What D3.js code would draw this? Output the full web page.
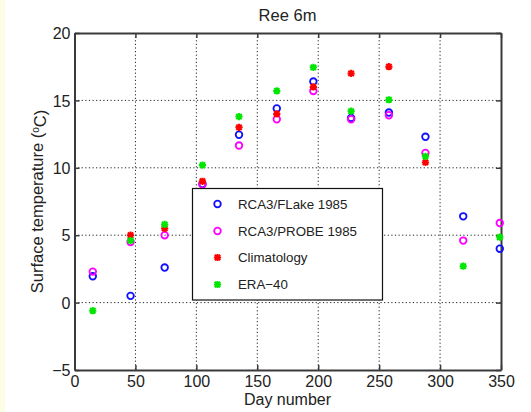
<!DOCTYPE html>
<html>
<head>
<meta charset="utf-8">
<script src="https://cdn.jsdelivr.net/npm/d3@7"></script>
<style>
  html, body { margin: 0; padding: 0; background: #fff; }
  svg { display: block; font-family: "Liberation Sans", Arial, sans-serif; }
</style>
</head>
<body>
<svg id="chart" width="531" height="412"></svg>
<script>
// Mid-month day numbers
const days = [15, 46, 74, 105, 135, 166, 196, 227, 258, 288, 319, 349];
// Surface temperature (°C) per source
const flake1985 = [1.95, 0.5, 2.6, 8.8, 12.45, 14.4, 16.4, 13.7, 14.1, 12.3, 6.4, 4.0];
const probe1985 = [2.3, 4.5, 5.0, 8.75, 11.65, 13.6, 15.7, 13.6, 13.9, 11.1, 4.6, 5.9];
const climatology = [null, 5.0, 5.5, 9.0, 13.0, 14.0, 16.0, 17.0, 17.5, 10.4, null, null];
const era40 = [-0.6, 4.6, 5.8, 10.2, 13.8, 15.7, 17.45, 14.2, 15.05, 10.85, 2.7, 4.85];

const xTicks = [0, 50, 100, 150, 200, 250, 300, 350];
const yTicks = [-5, 0, 5, 10, 15, 20];

const seriesNames = ["RCA3/FLake 1985", "RCA3/PROBE 1985", "Climatology", "ERA\u221240"];

const svg = d3.select("#chart");
const plotL = 74.5, plotR = 501, plotT = 33, plotB = 370;

const x = d3.scaleLinear().domain([0, 350]).range([plotL, plotR]);
const y = d3.scaleLinear().domain([-5, 20]).range([plotB, plotT]);

// thin pale strip at the left edge of the figure
svg.append("rect").attr("x", 0).attr("y", 0).attr("width", 5).attr("height", 412).attr("fill", "#fdfde6");

// dotted grid
const grid = svg.append("g").attr("stroke", "#222").attr("stroke-width", 1).attr("stroke-dasharray", "1.2,2.4");
grid.selectAll(".gx").data(xTicks.slice(1, -1)).join("line")
  .attr("x1", d => x(d)).attr("x2", d => x(d)).attr("y1", plotT).attr("y2", plotB);
grid.selectAll(".gy").data(yTicks.slice(1, -1)).join("line")
  .attr("y1", d => y(d)).attr("y2", d => y(d)).attr("x1", plotL).attr("x2", plotR);

// axes with inward ticks
const fmt = d => d < 0 ? "\u2212" + Math.abs(d) : String(d);
const axB = svg.append("g").attr("transform", `translate(0,${plotB})`)
  .call(d3.axisBottom(x).tickValues(xTicks).tickFormat(fmt).tickSizeInner(-5).tickSizeOuter(0).tickPadding(6));
const axL = svg.append("g").attr("transform", `translate(${plotL},0)`)
  .call(d3.axisLeft(y).tickValues(yTicks).tickFormat(fmt).tickSizeInner(-5).tickSizeOuter(0).tickPadding(4));
const axT = svg.append("g").attr("transform", `translate(0,${plotT})`)
  .call(d3.axisTop(x).tickValues(xTicks).tickFormat("").tickSizeInner(-5).tickSizeOuter(0));
const axR = svg.append("g").attr("transform", `translate(${plotR},0)`)
  .call(d3.axisRight(y).tickValues(yTicks).tickFormat("").tickSizeInner(-5).tickSizeOuter(0));

[axB, axL, axT, axR].forEach(g => {
  g.select(".domain").attr("stroke", "#3a3a3a").attr("stroke-width", 2);
  g.selectAll(".tick line").attr("stroke", "#3a3a3a").attr("stroke-width", 1.5);
  g.selectAll(".tick text").attr("fill", "#222").style("font-size", "16px").style("font-family", "'Liberation Sans', Arial, sans-serif");
});
axB.selectAll(".tick text").attr("dy", "0.71em");
axL.selectAll(".tick text").attr("dy", "0.35em");

// markers
function circleMark(g, cx, cy, color, r = 3.3) {
  g.append("circle").attr("cx", cx).attr("cy", cy).attr("r", r)
    .attr("fill", "none").attr("stroke", color).attr("stroke-width", 1.8);
}
function starMark(g, cx, cy, color, s = 3.6) {
  const p = d3.path();
  p.moveTo(cx - s, cy); p.lineTo(cx + s, cy);
  p.moveTo(cx, cy - s); p.lineTo(cx, cy + s);
  const d = s * 0.75;
  p.moveTo(cx - d, cy - d); p.lineTo(cx + d, cy + d);
  p.moveTo(cx - d, cy + d); p.lineTo(cx + d, cy - d);
  g.append("path").attr("d", p.toString()).attr("stroke", color).attr("stroke-width", 2).attr("fill", "none");
}

const series = [
  { vals: flake1985, color: "#1010ff", mark: circleMark },
  { vals: probe1985, color: "#ff00ff", mark: circleMark },
  { vals: climatology, color: "#ff0000", mark: starMark },
  { vals: era40, color: "#00e600", mark: starMark }
];

const marks = svg.append("g");
series.forEach(s => {
  days.forEach((d, i) => {
    const v = s.vals[i];
    if (v === null) return;
    s.mark(marks, x(d), y(v), s.color);
  });
});

// legend
const lg = svg.append("g");
lg.append("rect").attr("x", 192.5).attr("y", 188.5).attr("width", 190).attr("height", 111.5)
  .attr("fill", "#fff").attr("stroke", "#111").attr("stroke-width", 1.2);
const legendY = [204, 231, 257.5, 284.5];
series.forEach((s, i) => {
  s.mark(lg, 217.5, legendY[i], s.color);
  lg.append("text").attr("x", 238).attr("y", legendY[i]).attr("dy", "0.35em")
    .style("font-size", "13.3px").attr("fill", "#222").text(seriesNames[i]);
});

// title and axis labels
svg.append("text").attr("x", 287.5).attr("y", 20.5).attr("text-anchor", "middle")
  .style("font-size", "16.5px").attr("fill", "#222").text("Ree 6m");
svg.append("text").attr("x", 287.5).attr("y", 405).attr("text-anchor", "middle")
  .style("font-size", "16px").attr("fill", "#222").text("Day number");
const yl = svg.append("text").attr("transform", "translate(43,201.5) rotate(-90)")
  .attr("text-anchor", "middle").style("font-size", "16.5px").attr("fill", "#222");
yl.append("tspan").text("Surface temperature (");
yl.append("tspan").attr("dy", "-0.45em").style("font-size", "10px").text("o");
yl.append("tspan").attr("dy", "0.45em").text("C)");
</script>
</body>
</html>
